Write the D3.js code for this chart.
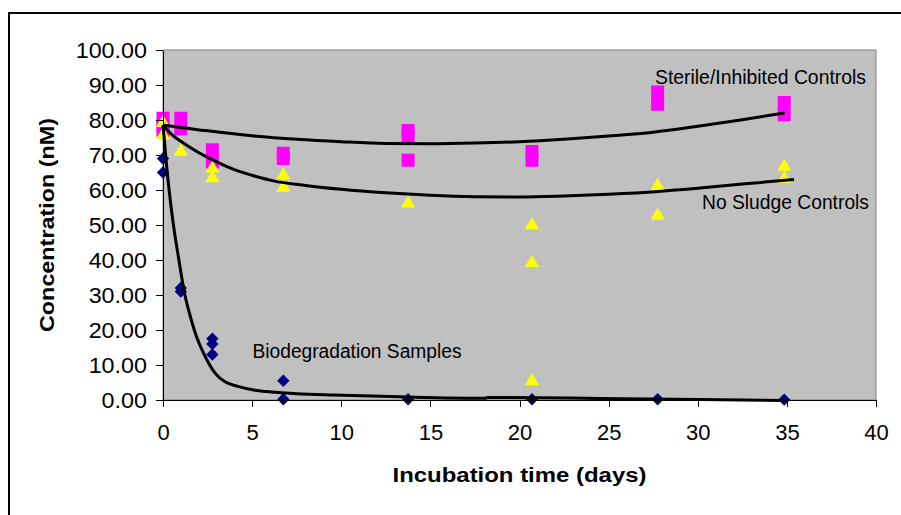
<!DOCTYPE html>
<html><head><meta charset="utf-8">
<script src="https://cdn.jsdelivr.net/npm/d3@7"></script>
<style>
body{margin:0;background:#fff}
svg{display:block}
text{font-family:Arial,"Liberation Sans",sans-serif}
</style>
</head><body>
<svg id="chart" width="901" height="515"></svg>
<script>
// ---------- data ----------
const xTicks = [0, 5, 10, 15, 20, 25, 30, 35, 40];
const yTicks = [0, 10, 20, 30, 40, 50, 60, 70, 80, 90, 100];

// Biodegradation Samples (diamonds)
const bioDays = [0, 0, 1, 1, 2.77, 2.77, 2.77, 6.75, 6.75, 13.75, 20.7, 27.75, 34.85];
const bioConc = [69, 65, 32, 31, 17.5, 16, 13, 5.5, 0.2, 0.2, 0.2, 0.2, 0.1];

// Sterile/Inhibited Controls (squares)
const sterileDays = [0, 0, 0, 1, 1, 2.77, 2.77, 6.75, 6.75, 13.75, 13.75, 13.75, 20.7, 20.7, 27.75, 27.75, 34.85, 34.85];
const sterileConc = [80.5, 78.5, 77, 80.5, 77.5, 71.5, 68, 70.5, 69, 77, 75.5, 68.5, 71, 68.5, 88, 84.5, 85, 81.5];

// No Sludge Controls (triangles)
const noSludgeDays = [0, 0, 1, 2.77, 2.77, 6.75, 6.75, 13.75, 20.7, 20.7, 20.7, 27.75, 27.75, 34.85, 34.85];
const noSludgeConc = [79.5, 76, 71.3, 66.5, 63.7, 64.5, 61, 56.5, 50.3, 39.5, 5.7, 61.5, 53, 67, 63.5];

// fitted curves
const bioFitDays = [0, 0.2, 0.41, 0.6, 0.86, 1.23, 1.5, 1.8, 2.36, 2.92, 3.48, 4.2, 5.16, 5.82, 7.5, 9.54, 13.3, 18.12, 18.18, 24.5, 30.1, 34.87];
const bioFitConc = [78.6, 67, 57, 49.5, 41, 30, 24.5, 19.3, 12.5, 7.7, 5.2, 3.9, 2.8, 2.4, 1.8, 1.4, 0.9, 0.5, 0.75, 0.45, 0.15, -0.15];

const sterileFitDays = [0, 2.5, 5, 7.5, 10, 12.5, 15, 17.5, 20, 22.5, 25, 27.5, 30, 32.5, 34.87];
const sterileFitConc = [78.6, 76.9, 75.5, 74.5, 73.8, 73.3, 73.2, 73.4, 73.8, 74.5, 75.4, 76.5, 78.2, 80.1, 82];

const noSludgeFitDays = [0, 0.5, 1, 1.8, 2.9, 4, 5, 6.2, 8, 10, 12.5, 15, 17.5, 20, 22.5, 25, 27.8, 30, 32.5, 35.4];
const noSludgeFitConc = [78.6, 75.8, 73.9, 71.3, 68.3, 65.8, 64.2, 62.6, 61.3, 60.2, 59.2, 58.5, 58.1, 58, 58.3, 58.8, 59.6, 60.5, 61.7, 63];

const labels = {
  sterile: "Sterile/Inhibited Controls",
  noSludge: "No Sludge Controls",
  bio: "Biodegradation Samples",
  xTitle: "Incubation time (days)",
  yTitle: "Concentration (nM)"
};

// ---------- drawing ----------
const svg = d3.select("#chart");
const x = d3.scaleLinear().domain([0, 40]).range([163, 876]);
const y = d3.scaleLinear().domain([0, 100]).range([400, 50]);

// outer chart border
svg.append("rect").attr("x", 9).attr("y", 13).attr("width", 920).attr("height", 540)
  .attr("fill", "#fff").attr("stroke", "#000").attr("stroke-width", 2);

// plot area
svg.append("rect").attr("x", x(0)).attr("y", y(100))
  .attr("width", x(40) - x(0)).attr("height", y(0) - y(100))
  .attr("fill", "#C0C0C0").attr("stroke", "#808080").attr("stroke-width", 1);

const zip = (a, b) => a.map((d, i) => [d, b[i]]);

// markers
const g = svg.append("g");
g.selectAll(".sq").data(zip(sterileDays, sterileConc)).join("rect")
  .attr("x", d => x(d[0]) - 6.5).attr("y", d => y(d[1]) - 6.5)
  .attr("width", 13).attr("height", 13).attr("fill", "#FF00FF");

const tri = d3.symbol().type(d3.symbolTriangle).size(88);
g.selectAll(".tri").data(zip(noSludgeDays, noSludgeConc)).join("path")
  .attr("d", tri).attr("transform", d => `translate(${x(d[0])},${y(d[1]) + 1.2})`)
  .attr("fill", "#FFFF00");

g.selectAll(".dia").data(zip(bioDays, bioConc)).join("path")
  .attr("d", "M0,-6.2L6.2,0L0,6.2L-6.2,0Z")
  .attr("transform", d => `translate(${x(d[0])},${y(d[1])})`)
  .attr("fill", "#000080");

// fitted curves
const line = d3.line().x(d => x(d[0])).y(d => y(d[1])).curve(d3.curveMonotoneX);
[[sterileFitDays, sterileFitConc], [noSludgeFitDays, noSludgeFitConc], [bioFitDays, bioFitConc]]
  .forEach(([a, b]) => {
    svg.append("path").attr("d", line(zip(a, b)))
      .attr("fill", "none").attr("stroke", "#000").attr("stroke-width", 3)
      .attr("stroke-linejoin", "round");
  });

// axes
const yAxis = svg.append("g").attr("transform", `translate(${x(0)},0)`)
  .call(d3.axisLeft(y).tickValues(yTicks).tickFormat(d3.format(".2f"))
    .tickSize(7).tickSizeOuter(0).tickPadding(9));
const xAxis = svg.append("g").attr("transform", `translate(0,${y(0)})`)
  .call(d3.axisBottom(x).tickValues(xTicks).tickFormat(d3.format("d"))
    .tickSize(7).tickSizeOuter(0).tickPadding(17));
[yAxis, xAxis].forEach(a => {
  a.selectAll("path,line").attr("stroke", "#000").attr("shape-rendering", "crispEdges");
  a.selectAll("text").attr("font-size", 22).attr("fill", "#000")
    .style("font-family", "Arial, 'Liberation Sans', sans-serif");
});
yAxis.selectAll("text").each(function () {
  const l = this.getComputedTextLength();
  d3.select(this).attr("textLength", l * 1.06).attr("lengthAdjust", "spacingAndGlyphs");
});

// annotation labels
function label(txt, px, py, len, size, bold, rot) {
  const t = svg.append("text").text(txt).attr("font-size", size)
    .attr("textLength", len).attr("lengthAdjust", "spacingAndGlyphs").attr("fill", "#000");
  if (bold) t.attr("font-weight", "bold");
  if (rot) t.attr("text-anchor", "middle").attr("transform", `translate(${px},${py}) rotate(-90)`);
  else t.attr("x", px).attr("y", py);
  return t;
}
label(labels.sterile, 655, 84, 211, 19.5, false);
label(labels.noSludge, 702, 209, 167, 19.5, false);
label(labels.bio, 252.5, 358, 209, 19.5, false);
label(labels.xTitle, 519.5 - 127, 482, 254, 20, true);
label(labels.yTitle, 53.5, 225, 214, 20, true, true);
</script>
</body></html>
